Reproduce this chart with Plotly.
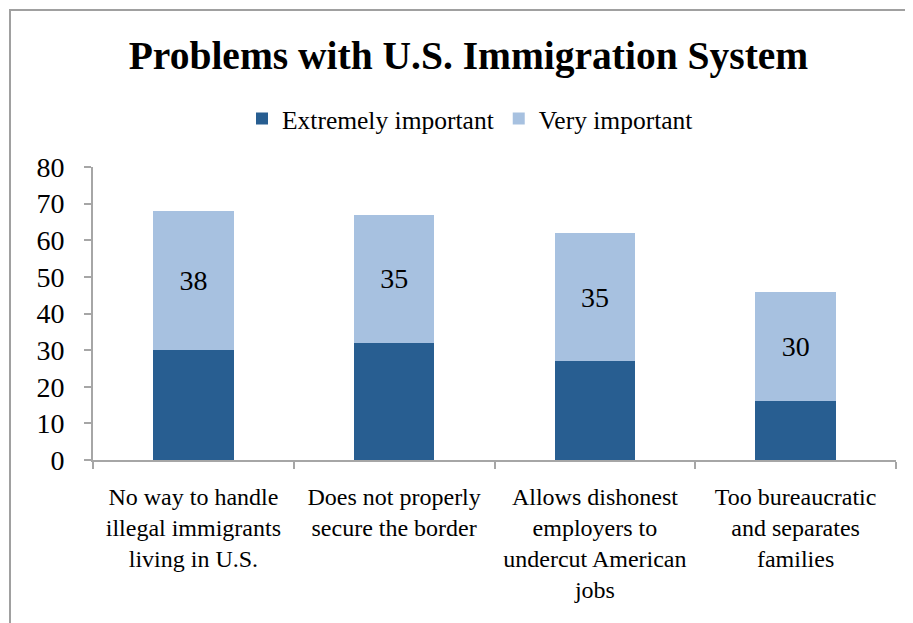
import plotly.graph_objects as go

categories = [
    "No way to handle<br>illegal immigrants<br>living in U.S.",
    "Does not properly<br>secure the border",
    "Allows dishonest<br>employers to<br>undercut American<br>jobs",
    "Too bureaucratic<br>and separates<br>families",
]
extremely = [30, 32, 27, 16]
very = [38, 35, 35, 30]
y_ticks = [0, 10, 20, 30, 40, 50, 60, 70, 80]

FONT = "Liberation Serif"
DARK = "#285E91"
LIGHT = "#A7C1E0"
AXIS = "#A6A6A6"

OFF = 8  # page body margin
W, H = 913, 623
# desired page positions of plot area
P_LEFT, P_RIGHT, P_TOP, P_BOTTOM = 93, 896, 167, 460
L = P_LEFT - OFF
R = W - (P_RIGHT - OFF)
T = P_TOP - OFF
B = H - (P_BOTTOM - OFF)
pw, ph = W - L - R, H - T - B

def px_x(p):
    return (p - OFF - L) / pw

def px_y(p):
    return (P_BOTTOM - p) / ph

fig = go.Figure()
fig.add_trace(go.Bar(
    x=categories, y=extremely, name="Extremely important",
    marker=dict(color=DARK, line=dict(width=0)),
    hoverinfo="skip",
))
fig.add_trace(go.Bar(
    x=categories, y=very, name="Very important",
    marker=dict(color=LIGHT, line=dict(width=0)),
    text=[str(v) for v in very], textposition="inside",
    insidetextanchor="middle",
    textfont=dict(family=FONT, size=28, color="black"),
    hoverinfo="skip",
))

fig.add_shape(type="rect", xref="paper", yref="paper",
              x0=px_x(10), x1=px_x(940), y0=px_y(660), y1=px_y(10),
              line=dict(color="#A0A0A0", width=2), fillcolor="rgba(0,0,0,0)",
              layer="below")

fig.update_layout(
    width=W, height=H,
    margin=dict(l=L, r=R, t=T, b=B),
    barmode="stack",
    bargap=0.6,
    plot_bgcolor="white", paper_bgcolor="white",
    font=dict(family=FONT, color="black"),
    title=dict(text="<b>Problems with U.S. Immigration System</b>",
               x=(468.5 - OFF) / W, xanchor="center",
               y=1 - (55 - OFF) / H, yanchor="middle",
               font=dict(family=FONT, size=39.5, color="black")),
    legend=dict(orientation="h", x=px_x(470), xanchor="center",
                y=px_y(119), yanchor="middle",
                font=dict(family=FONT, size=25.5, color="black"),
                itemwidth=30, tracegroupgap=0, traceorder="normal"),
    showlegend=True,
)
fig.update_yaxes(range=[0, 80], tickvals=y_ticks, showgrid=False,
                 showline=True, linecolor=AXIS, linewidth=2,
                 ticks="outside", ticklen=7, tickcolor=AXIS, tickwidth=2,
                 tickfont=dict(family=FONT, size=28, color="black"),
                 ticklabelstandoff=14,
                 zeroline=False, fixedrange=True)
fig.update_xaxes(showgrid=False, showline=True, linecolor=AXIS, linewidth=2,
                 ticks="outside", ticklen=7, tickcolor=AXIS, tickwidth=2,
                 tickson="boundaries", tickangle=0,
                 tickfont=dict(family=FONT, size=24, color="black"),
                 ticklabelstandoff=14, fixedrange=True)

fig.write_html("out.html")
